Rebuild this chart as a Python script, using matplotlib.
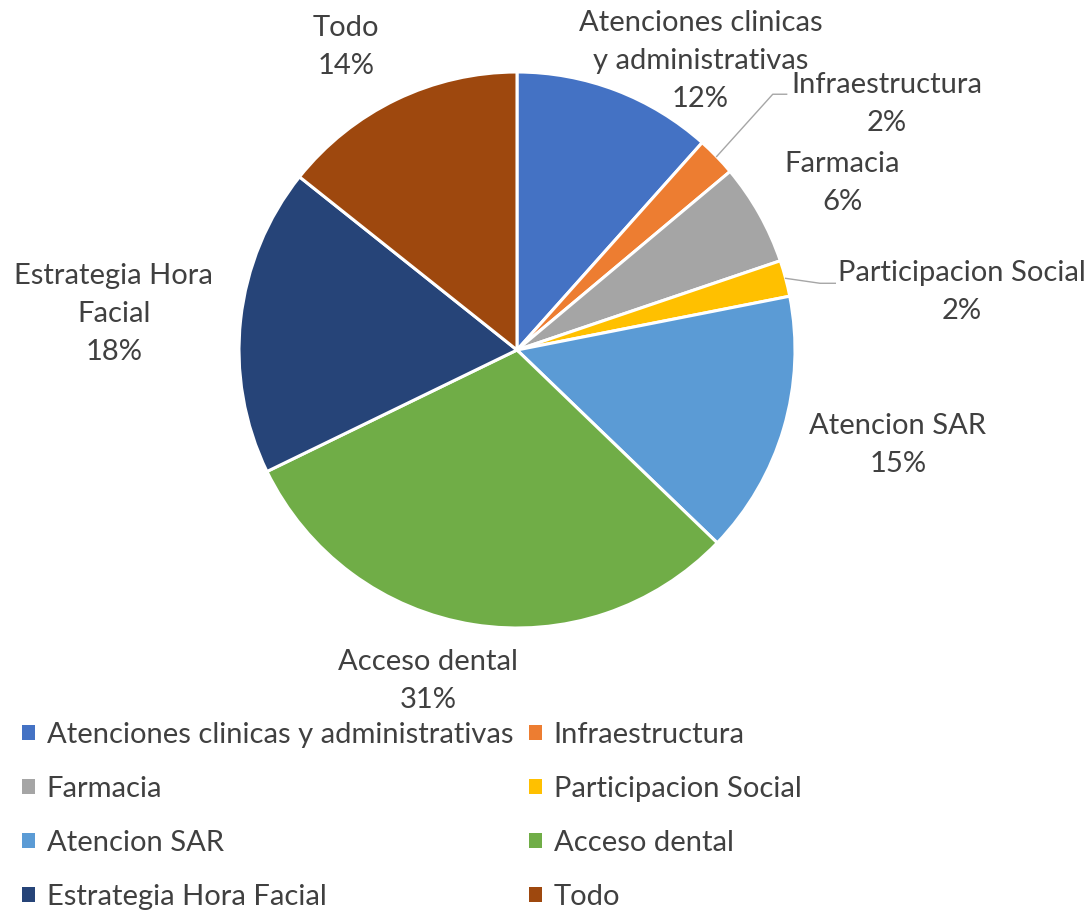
import numpy as np
import matplotlib
matplotlib.use('Agg')
import matplotlib.pyplot as plt

# data
categories = ['Atenciones clinicas y administrativas', 'Infraestructura', 'Farmacia',
              'Participacion Social', 'Atencion SAR', 'Acceso dental',
              'Estrategia Hora Facial', 'Todo']
slice_labels = ['Atenciones clinicas\ny administrativas', 'Infraestructura', 'Farmacia',
                'Participacion Social', 'Atencion SAR', 'Acceso dental',
                'Estrategia Hora\nFacial', 'Todo']
shares = [11.6, 2.3, 5.9, 2.1, 15.3, 30.6, 17.9, 14.3]
colors = ['#4472C4', '#ED7D31', '#A5A5A5', '#FFC000', '#5B9BD5', '#70AD47', '#264478', '#9E480E']

# label layout, in units of the pie radius relative to its centre
label_pos = [(0.66, 1.04), (1.33, 0.885), (1.17, 0.60), (1.60, 0.21),
             (1.37, -0.34), (-0.32, -1.19), (-1.45, 0.13), (-0.615, 1.09)]
# leader lines (elbow, end) for the small slices
leaders = {1: [(0.92, 0.92), (0.97, 0.92)], 3: [(1.09, 0.24), (1.145, 0.24)]}

plt.rcParams['font.family'] = ['Lato', 'DejaVu Sans']
txt_color = '#404040'
fs = 21

W, H = 1092, 910
fig = plt.figure(figsize=(W / 100, H / 100), dpi=100)
ax = fig.add_axes([0, 0, 1, 1])

cx, cy, R = 517, H - 350, 278
wedges, _ = ax.pie(shares, colors=colors, startangle=90, counterclock=False,
                   center=(cx, cy), radius=R, frame=True,
                   wedgeprops=dict(edgecolor='white', linewidth=2.2))
ax.set_xlim(0, W)
ax.set_ylim(0, H)
ax.axis('off')

total = sum(shares)
for i, w in enumerate(wedges):
    pct = shares[i] / total * 100
    lx, ly = label_pos[i]
    ax.text(cx + lx * R, cy + ly * R, '%s\n%d%%' % (slice_labels[i], round(pct)),
            ha='center', va='center', fontsize=fs, color=txt_color, linespacing=1.57)
    if i in leaders:
        th = np.deg2rad((w.theta1 + w.theta2) / 2)
        xs = [cx + R * np.cos(th)] + [cx + p[0] * R for p in leaders[i]]
        ys = [cy + R * np.sin(th)] + [cy + p[1] * R for p in leaders[i]]
        ax.plot(xs, ys, color='#A6A6A6', lw=1)

# legend, row-major like the original: two columns
col1 = [0, 2, 4, 6]
col2 = [1, 3, 5, 7]
kw = dict(frameon=False, fontsize=fs, labelcolor=txt_color, handlelength=0.45,
          handleheight=0.45, handletextpad=0.4, labelspacing=0.96, borderpad=0,
          borderaxespad=0, loc='upper left')
leg1 = ax.legend([wedges[i] for i in col1], [categories[i] for i in col1],
                 bbox_to_anchor=(22 / W, 1 - 722 / H), **kw)
ax.add_artist(leg1)
ax.legend([wedges[i] for i in col2], [categories[i] for i in col2],
          bbox_to_anchor=(529 / W, 1 - 722 / H), **kw)
for leg in ax.get_legend(), leg1:
    for h in leg.legend_handles:
        h.set_edgecolor('none')

fig.savefig('out.png', dpi=100)
